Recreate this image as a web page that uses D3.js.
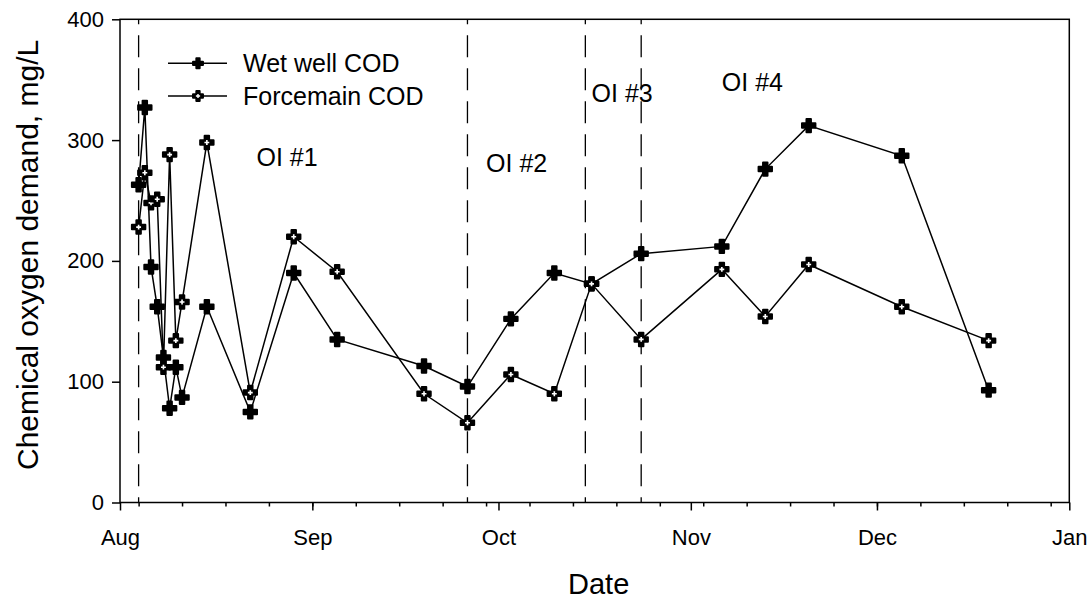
<!DOCTYPE html>
<html>
<head>
<meta charset="utf-8">
<script src="https://cdn.jsdelivr.net/npm/d3@7"></script>
<style>
  body { margin: 0; background: #fff; }
  svg { display: block; font-family: "Liberation Sans", Arial, sans-serif; }
</style>
</head>
<body>
<svg id="chart" width="1087" height="599"></svg>
<script>
// sampling dates and COD readings (mg/L)
const sampleDates = ["2002-08-04", "2002-08-05", "2002-08-06", "2002-08-07", "2002-08-08", "2002-08-09",
  "2002-08-10", "2002-08-11", "2002-08-15", "2002-08-22", "2002-08-29", "2002-09-05", "2002-09-19",
  "2002-09-26", "2002-10-03", "2002-10-10", "2002-10-16", "2002-10-24", "2002-11-06", "2002-11-13",
  "2002-11-20", "2002-12-05", "2002-12-19"];
const wetWell = [263, 327, 195, 162, 120, 78, 112, 87, 162, 75, 190, 135, 113, 96, 152, 190, 181, 206, 212, 276, 312, 287, 93];
const forcemain = [228, 273, 248, 251, 112, 288, 134, 166, 298, 91, 220, 191, 90, 66, 106, 90, 181, 135, 193, 154, 197, 162, 134];

// operational intervention start dates and label anchors
const oiDates = ["2002-08-04", "2002-09-26", "2002-10-15", "2002-10-24"];
const oiLabels = ["OI #1", "OI #2", "OI #3", "OI #4"];
const oiLabelDates = ["2002-08-23", "2002-09-29", "2002-10-16", "2002-11-06"];
const oiLabelValues = [286, 281, 339, 348];

const yTicks = [0, 100, 200, 300, 400];
const seriesNames = ["Wet well COD", "Forcemain COD"];

const parse = d3.utcParse("%Y-%m-%d");
const svg = d3.select("#chart");

const margin = { left: 120, right: 1069.3, top: 19.3, bottom: 502.5 };

const x = d3.scaleUtc()
  .domain([parse("2002-08-01"), parse("2003-01-01")])
  .range([margin.left, margin.right]);
const y = d3.scaleLinear().domain([0, 400]).range([margin.bottom, margin.top]);

// dashed OI lines
svg.append("g")
  .selectAll("line")
  .data(oiDates)
  .enter()
  .append("line")
  .attr("x1", d => x(parse(d))).attr("x2", d => x(parse(d)))
  .attr("y1", margin.top).attr("y2", margin.bottom)
  .attr("stroke", "#000")
  .attr("stroke-width", 1.3)
  .attr("stroke-dasharray", "22,11")
  .attr("stroke-dashoffset", 17);

// frame
svg.append("rect")
  .attr("x", margin.left).attr("y", margin.top)
  .attr("width", margin.right - margin.left)
  .attr("height", margin.bottom - margin.top)
  .attr("fill", "none").attr("stroke", "#000").attr("stroke-width", 1.5);

// y axis
const yAxis = svg.append("g")
  .attr("transform", `translate(${margin.left},0)`)
  .call(d3.axisLeft(y).tickValues(yTicks).tickSize(8).tickPadding(8));
yAxis.select(".domain").remove();
yAxis.selectAll("line").attr("stroke-width", 1.5);
yAxis.selectAll("text").attr("font-size", 22).attr("fill", "#000").attr("font-family", null);

// x axis: weekly minor ticks, monthly major ticks
const xMinor = svg.append("g")
  .attr("transform", `translate(0,${margin.bottom})`)
  .call(d3.axisBottom(x).ticks(d3.utcSunday.every(1)).tickSize(4).tickFormat(""));
xMinor.select(".domain").remove();
xMinor.selectAll("line").attr("stroke-width", 1.5);

const xAxis = svg.append("g")
  .attr("transform", `translate(0,${margin.bottom})`)
  .call(d3.axisBottom(x).ticks(d3.utcMonth.every(1)).tickSize(8).tickPadding(19)
    .tickFormat(d3.utcFormat("%b")));
xAxis.select(".domain").remove();
xAxis.selectAll("line").attr("stroke-width", 1.5);
xAxis.selectAll("text").attr("font-size", 22).attr("fill", "#000").attr("font-family", null);

// axis titles
svg.append("text")
  .attr("x", (margin.left + margin.right) / 2 + 4)
  .attr("y", 594)
  .attr("text-anchor", "middle")
  .attr("font-size", 29)
  .text("Date");

svg.append("text")
  .attr("transform", `translate(38,${(margin.top + margin.bottom) / 2 - 6}) rotate(-90)`)
  .attr("text-anchor", "middle")
  .attr("font-size", 30)
  .text("Chemical oxygen demand, mg/L");

// OI labels
svg.append("g")
  .selectAll("text")
  .data(oiLabels)
  .enter()
  .append("text")
  .attr("x", (d, i) => x(parse(oiLabelDates[i])))
  .attr("y", (d, i) => y(oiLabelValues[i]))
  .attr("dy", "0.35em")
  .attr("font-size", 25)
  .text(d => d);

const line = d3.line()
  .x((d, i) => x(parse(sampleDates[i])))
  .y(d => y(d));

const bigCross = d3.symbol().type(d3.symbolCross).size(100);
const smallCross = d3.symbol().type(d3.symbolCross).size(13);

const drawSeries = (values, hollow) => {
  svg.append("path")
    .datum(values)
    .attr("d", line)
    .attr("fill", "none")
    .attr("stroke", "#000")
    .attr("stroke-width", 1.5);

  const pts = svg.append("g")
    .selectAll("g")
    .data(values)
    .enter()
    .append("g")
    .attr("transform", (d, i) => `translate(${x(parse(sampleDates[i]))},${y(d)})`);

  pts.append("path")
    .attr("d", bigCross())
    .attr("fill", "#000")
    .attr("stroke", "#000")
    .attr("stroke-width", 2)
    .attr("stroke-linejoin", "round");

  if (hollow) {
    pts.append("path").attr("d", smallCross()).attr("fill", "#fff");
  }
};

drawSeries(wetWell, false);
drawSeries(forcemain, true);

// legend
const legend = svg.append("g")
  .selectAll("g")
  .data(seriesNames)
  .enter()
  .append("g")
  .attr("transform", (d, i) => `translate(0,${63.3 + i * 32.7})`);

legend.append("line")
  .attr("x1", 168).attr("x2", 227)
  .attr("stroke", "#000").attr("stroke-width", 1.5);

legend.append("path")
  .attr("transform", "translate(198,0)")
  .attr("d", d3.symbol().type(d3.symbolCross).size(55)())
  .attr("fill", "#000").attr("stroke", "#000").attr("stroke-width", 2)
  .attr("stroke-linejoin", "round");

legend.filter((d, i) => i === 1)
  .append("path")
  .attr("transform", "translate(198,0)")
  .attr("d", d3.symbol().type(d3.symbolCross).size(10)())
  .attr("fill", "#fff");

legend.append("text")
  .attr("x", 243)
  .attr("dy", "0.35em")
  .attr("font-size", 25)
  .text(d => d);
</script>
</body>
</html>
